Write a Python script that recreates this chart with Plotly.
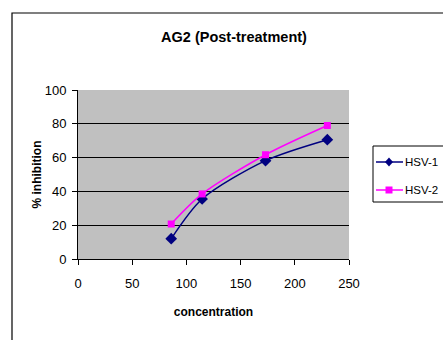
import plotly.graph_objects as go

concentration = [86, 114.5, 173, 230]
hsv1 = [12, 35.5, 58.2, 70.6]
hsv2 = [20.7, 38.5, 61.7, 79]
series_names = ["HSV-1", "HSV-2"]
series_colors = ["#000080", "#FF00FF"]

W, H = 443, 340
PL, PT, PR, PB = 78, 90, 349, 259          # plot area in pixels
L, T, R, B = PL, PT, W - PR, H - PB
pw, ph = PR - PL, PB - PT


def px(x):
    return (x - PL) / pw


def py(y):
    return (PB - y) / ph


fig = go.Figure()
fig.add_trace(go.Scatter(
    x=concentration, y=hsv1, name=series_names[0], mode="lines+markers",
    line=dict(color=series_colors[0], width=1.5, shape="spline", smoothing=0.8),
    marker=dict(symbol="diamond", size=9, color=series_colors[0]),
    showlegend=False,
))
fig.add_trace(go.Scatter(
    x=concentration, y=hsv2, name=series_names[1], mode="lines+markers",
    line=dict(color=series_colors[1], width=1.5, shape="spline", smoothing=0.8),
    marker=dict(symbol="square", size=7, color=series_colors[1]),
    showlegend=False,
))

font_narrow = "Liberation Sans Narrow, Arial Narrow, Liberation Sans, Arial, sans-serif"
font_main = "Liberation Sans, Arial, sans-serif"

shapes = [dict(type="rect", xref="paper", yref="paper",
               x0=px(12), x1=px(480), y0=py(380), y1=py(13),
               line=dict(color="black", width=1.2), fillcolor="rgba(0,0,0,0)",
               layer="below")]
annotations = []

# legend box (runs off the right edge like the reference)
shapes.append(dict(type="rect", xref="paper", yref="paper",
                   x0=px(373), x1=px(480), y0=py(202), y1=py(146),
                   line=dict(color="black", width=1), fillcolor="white"))
leg_y = [162, 190]
for i, name in enumerate(series_names):
    yy = leg_y[i]
    shapes.append(dict(type="line", xref="paper", yref="paper",
                       x0=px(376), x1=px(403), y0=py(yy), y1=py(yy),
                       line=dict(color=series_colors[i], width=1.5)))
    cx = 389
    if i == 0:
        path = (f"M {px(cx)},{py(yy-4.5)} L {px(cx+4)},{py(yy)} "
                f"L {px(cx)},{py(yy+4.5)} L {px(cx-4)},{py(yy)} Z")
    else:
        path = (f"M {px(cx-3.5)},{py(yy-3.5)} L {px(cx+3.5)},{py(yy-3.5)} "
                f"L {px(cx+3.5)},{py(yy+3.5)} L {px(cx-3.5)},{py(yy+3.5)} Z")
    shapes.append(dict(type="path", xref="paper", yref="paper", path=path,
                       fillcolor=series_colors[i], line=dict(width=0)))
    annotations.append(dict(text=name, xref="paper", yref="paper",
                            x=px(403), y=py(yy), xanchor="left", yanchor="middle",
                            showarrow=False,
                            font=dict(family=font_narrow, size=11.5, color="black")))

fig.update_layout(
    width=W, height=H,
    margin=dict(l=L, r=R, t=T, b=B, pad=0, autoexpand=False),
    paper_bgcolor="white",
    plot_bgcolor="#C0C0C0",
    title=dict(text="<b>AG2 (Post-treatment)</b>", x=234 / W, xanchor="center",
               y=1 - 37 / H, yanchor="middle",
               font=dict(family=font_main, size=14.5, color="black")),
    xaxis=dict(range=[0, 250], tickvals=[0, 50, 100, 150, 200, 250],
               showgrid=False, zeroline=False, showline=True, linecolor="black",
               linewidth=1, ticks="outside", ticklen=5, tickcolor="black",
               ticklabelstandoff=7,
               tickfont=dict(family=font_narrow, size=13, color="black"),
               title=dict(text="<b>concentration</b>", standoff=18,
                          font=dict(family=font_main, size=12, color="black"))),
    yaxis=dict(range=[0, 100], tickvals=[0, 20, 40, 60, 80, 100],
               showgrid=True, gridcolor="black", gridwidth=1, zeroline=False,
               showline=True, linecolor="black", linewidth=1,
               ticks="outside", ticklen=5, tickcolor="black",
               ticklabelstandoff=3,
               tickfont=dict(family=font_narrow, size=13, color="black"),
               title=dict(text="<b>% inhibition</b>", standoff=0,
                          font=dict(family=font_main, size=12, color="black"))),
    showlegend=False,
    shapes=shapes,
    annotations=annotations,
)

fig.write_html(
    "out.html",
    config={"displayModeBar": False},
    post_script="document.body.style.margin='0';document.body.style.overflow='hidden';",
)
